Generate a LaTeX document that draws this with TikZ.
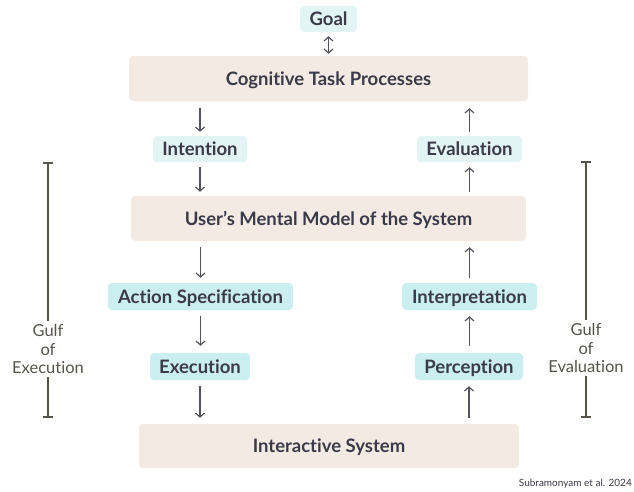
\documentclass[tikz,border=0pt]{standalone}
\usepackage{fontspec}
\setmainfont[Ligatures=NoCommon]{Lato}
\usetikzlibrary{arrows.meta,calc}
\definecolor{txt}{HTML}{3A3A48}
\definecolor{arr}{HTML}{55525E}
\definecolor{gulf}{HTML}{55534A}
\definecolor{peach}{HTML}{F4EAE4}
\definecolor{cyanlt}{HTML}{E3F4F5}
\definecolor{cyanmd}{HTML}{CBEEF0}
\tikzset{
  base/.style={rounded corners=4pt, inner sep=0pt, text=txt, text height=13pt, text depth=0pt, font=\fontsize{18.5}{22}\selectfont\bfseries},
  wide/.style={base, fill=peach},
  lite/.style={base, fill=cyanlt},
  mid/.style={base, fill=cyanmd},
  flow/.style={draw=arr, line width=1.2pt, -{Straight Barb[length=4pt,width=9pt,line width=1.2pt]}},
  flow2/.style={draw=arr, line width=1.2pt, {Straight Barb[length=4pt,width=9pt,line width=1.2pt]}-{Straight Barb[length=4pt,width=9pt,line width=1.2pt]}},
  gulfbar/.style={draw=gulf, line width=1.3pt},
  gulftxt/.style={text=gulf, align=center, font=\fontsize{16.5}{18.5}\selectfont}
}
\begin{document}
\begin{tikzpicture}[x=1pt,y=-1pt]
\useasboundingbox (0,0) rectangle (634,491);
\node[lite, minimum width=57pt, minimum height=26pt] (goal) at (328.5,19) {Goal};
\node[wide, minimum width=399pt, minimum height=45pt] (ctp) at (328.5,78.5) {Cognitive Task Processes};
\node[lite, minimum width=94pt, minimum height=26pt] (int) at (200,149) {Intention};
\node[lite, minimum width=105pt, minimum height=26pt] (eval) at (469.5,149) {Evaluation};
\node[wide, minimum width=395pt, minimum height=45pt] (umm) at (328.5,218.5) {User’s Mental Model of the System};
\node[mid, minimum width=185pt, minimum height=27pt] (act) at (200.5,296.5) {Action Specification};
\node[mid, minimum width=135pt, minimum height=27pt] (interp) at (469.5,296.5) {Interpretation};
\node[mid, minimum width=100pt, minimum height=27pt] (exec) at (200,366.5) {Execution};
\node[mid, minimum width=108pt, minimum height=27pt] (perc) at (469,366.5) {Perception};
\node[wide, minimum width=380pt, minimum height=44pt] (is) at (329,446) {Interactive System};

\draw[flow2, shorten <=4pt, shorten >=2pt] (goal.south) -- (goal.south |- ctp.north);
% left column
\draw[flow, shorten <=7pt, shorten >=4pt] (ctp.south -| int) -- (int.north);
\draw[flow, shorten <=5pt, shorten >=4pt] (int.south) -- (int.south |- umm.north);
\draw[flow, shorten <=6pt, shorten >=5pt] (umm.south -| act) -- (act.north);
\draw[flow, shorten <=6pt, shorten >=7pt] (act.south) -- (act.south |- exec.north);
\draw[flow, shorten <=6pt, shorten >=6pt] (exec.south) -- (exec.south |- is.north);
% right column
\draw[flow, shorten <=4pt, shorten >=7pt] (eval.north) -- (eval.north |- ctp.south);
\draw[flow, shorten <=4pt, shorten >=5pt] (eval.south |- umm.north) -- (eval.south);
\draw[flow, shorten <=5pt, shorten >=6pt] (interp.north) -- (interp.north |- umm.south);
\draw[flow, shorten <=7pt, shorten >=6pt] (interp.south |- perc.north) -- (interp.south);
\draw[flow, shorten <=6pt, shorten >=6pt] (perc.south |- is.north) -- (perc.south);

% gulfs
\coordinate (ge1) at (48,163);
\coordinate (ge2) at (48,417);
\node[gulftxt] (get) at (48,349) {Gulf\\of\\Execution};
\draw[gulfbar] (ge1) -- (get.north);
\draw[gulfbar] (get.south) -- (ge2);
\draw[gulfbar] ($(ge1)+(-5,0)$) -- ($(ge1)+(5,0)$);
\draw[gulfbar] ($(ge2)+(-5,0)$) -- ($(ge2)+(5,0)$);

\coordinate (gv1) at (586,162);
\coordinate (gv2) at (586,417);
\node[gulftxt] (gvt) at (586,348) {Gulf\\of\\Evaluation};
\draw[gulfbar] (gv1) -- (gvt.north);
\draw[gulfbar] (gvt.south) -- (gv2);
\draw[gulfbar] ($(gv1)+(-5,0)$) -- ($(gv1)+(5,0)$);
\draw[gulfbar] ($(gv2)+(-5,0)$) -- ($(gv2)+(5,0)$);

\node[anchor=east, inner sep=0pt, text=txt, font=\fontsize{10}{12}\selectfont] (cred) at (632,484) {Subramonyam et al. 2024};
\end{tikzpicture}
\end{document}
